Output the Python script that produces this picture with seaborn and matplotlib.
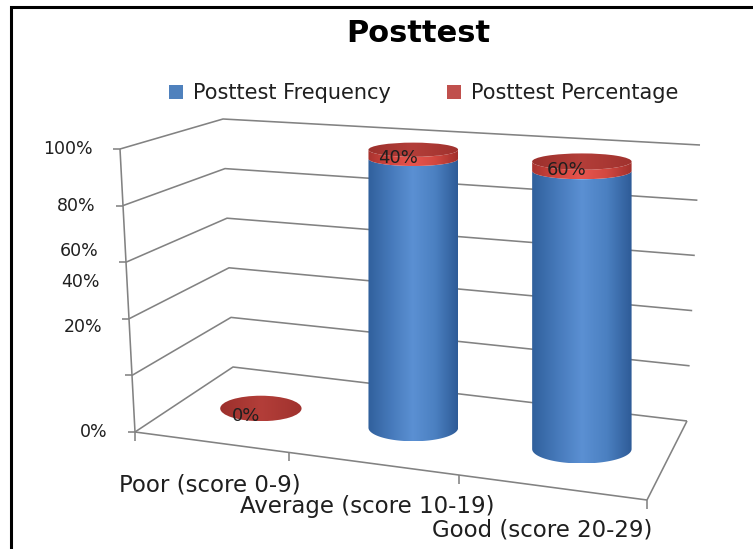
import numpy as np
import pandas as pd
import matplotlib
matplotlib.use("Agg")
import matplotlib.pyplot as plt
from matplotlib.patches import PathPatch, Ellipse, Patch
from matplotlib.path import Path
import seaborn as sns

# ---- data -------------------------------------------------------------
categories = ["Poor (score 0-9)", "Average (score 10-19)", "Good (score 20-29)"]
frequency = [0, 12, 18]
percentage = [0.0, 0.40, 0.60]
series_names = ["Posttest Frequency", "Posttest Percentage"]
value_ticks = [0, 20, 40, 60, 80, 100]
value_tick_labels = ["0%", "20%", "40%", "60%", "80%", "100%"]
chart_title = "Posttest"

# ---- style ------------------------------------------------------------
sns.set_theme(style="white")
plt.rcParams["font.family"] = ["DejaVu Sans"]

BLUE, RED = sns.color_palette(["#4F81BD", "#C0504D"])
side_cmaps = [
    sns.blend_palette(["#30609C", "#4679BA", "#5B90D3", "#4B80C1", "#2E5B97"], as_cmap=True),
    sns.blend_palette(["#A8332F", "#D4463F", "#E8554E", "#D24840", "#A2302C"], as_cmap=True),
]
cap_cmaps = [
    sns.blend_palette(["#3A67A3", "#4F82C0", "#3C69A5"], as_cmap=True),
    sns.blend_palette(["#9C302C", "#B33E39", "#A0322E"], as_cmap=True),
]
LINE = "#828282"
TEXT = "#1f1f1f"

# 100 % stacked shares
df = pd.DataFrame({"category": categories,
                   "frequency": frequency,
                   "percentage": percentage})
total = df["frequency"] + df["percentage"]
safe_total = total.where(total > 0, 1.0)
df["freq_share"] = np.where(total > 0, df["frequency"] / safe_total * 100, 0.0)
df["pct_share"] = np.where(total > 0, df["percentage"] / safe_total * 100, 0.0)

# ---- 3-D box projection ----------------------------------------------
W, H = 753, 549
# screen position of the box corners: [depth (front, back)][side (left, right)][level (0, 100)]
corners = np.array([
    [[(135, 432), (120, 149)], [(647, 500), (663, 191)]],
    [[(233, 367), (223, 119)], [(687, 421), (700, 145)]],
], dtype=float)
PERSP = -0.14          # horizontal foreshortening along the category axis
BAR_DEPTH = 0.5        # depth of the cylinder row inside the box
ROW_SHIFT = 6          # sideways nudge of the cylinder row (px)
RADIUS_FRAC = 0.28     # cylinder radius relative to one category slot
DEPTH_FRAC = 0.19      # cylinder radius relative to the box depth


def warp(s):
    return (1 + PERSP) * s / (1 + PERSP * s)


def project(s, d, v):
    t = warp(s)
    h = v / 100.0
    wd = np.array([1 - d, d])
    wt = np.array([1 - t, t])
    wh = np.array([1 - h, h])
    w = wd[:, None, None] * wt[None, :, None] * wh[None, None, :]
    return (w[..., None] * corners).sum(axis=(0, 1, 2))


fig = plt.figure(figsize=(W / 100, H / 100), dpi=100)
ax = fig.add_axes([0, 0, 1, 1])
ax.set_xlim(0, W)
ax.set_ylim(H, 0)
ax.set_autoscale_on(False)
ax.axis("off")

line_kw = dict(color=LINE, lw=1.15, solid_capstyle="butt", zorder=1)

# walls: gridlines along the side wall and the back wall
for v in value_ticks:
    pts = np.array([project(0, 0, v), project(0, 1, v), project(1, 1, v)])
    ax.plot(pts[:, 0], pts[:, 1], **line_kw)

# floor outline and value axis
for a, b in [((0, 0, 0), (1, 0, 0)), ((1, 0, 0), (1, 1, 0)), ((0, 0, 0), (0, 0, 100))]:
    p, q = project(*a), project(*b)
    ax.plot([p[0], q[0]], [p[1], q[1]], **line_kw)

# value axis ticks and labels
tick_label_levels = [0, 37, 53, 64, 80, 100]
for v in value_ticks:
    p = project(0, 0, v)
    ax.plot([p[0] - 7, p[0]], [p[1], p[1]], **line_kw)
for lab, lv in zip(value_tick_labels, tick_label_levels):
    p = project(0, 0, lv)
    ax.text(p[0] - 27, p[1], lab, ha="right", va="center", fontsize=12.5, color=TEXT)

# category axis ticks and labels
n = len(categories)
for k in range(n + 1):
    p = project(k / n, 0, 0)
    ax.plot([p[0], p[0]], [p[1], p[1] + 9], **line_kw)
for i, lab in enumerate(categories):
    p = project((i + 0.5) / n, 0, 0)
    ax.text(p[0] - 4 * i, p[1] + 43, lab, ha="center", va="center", fontsize=16.5, color=TEXT)


# ---- cylinders ---------------------------------------------------------
def fill_gradient(patch, cmap, x0, x1, y0, y1, z):
    ax.add_patch(patch)
    grad = np.linspace(0, 1, 256)[None, :]
    im = ax.imshow(grad, cmap=cmap, extent=(x0, x1, y1, y0), aspect="auto",
                   interpolation="bicubic", zorder=z)
    im.set_clip_path(patch)


for i, row in df.iterrows():
    s = (i + 0.5) / n
    xc = project(s, BAR_DEPTH, 0)[0] + ROW_SHIFT
    r = RADIUS_FRAC * (project((i + 1) / n, BAR_DEPTH, 0)[0] - project(i / n, BAR_DEPTH, 0)[0])

    def yc(v):
        return project(s, BAR_DEPTH, v)[1]

    def ry(v):
        return DEPTH_FRAC * (project(s, 0, v)[1] - project(s, 1, v)[1])

    z = 3 + i
    shares = [row["freq_share"], row["pct_share"]]
    base = 0.0
    top_series = len(shares) - 1
    for k, sh in enumerate(shares):
        if sh <= 0:
            continue
        v0, v1 = base, base + sh
        th = np.linspace(0, np.pi, 80)
        upper = np.column_stack([xc - r * np.cos(th), yc(v1) + ry(v1) * np.sin(th)])
        lower = np.column_stack([xc + r * np.cos(th), yc(v0) + ry(v0) * np.sin(th)])
        verts = np.vstack([upper, lower, upper[:1]])
        patch = PathPatch(Path(verts, closed=True), facecolor="none", edgecolor="none", zorder=z)
        fill_gradient(patch, side_cmaps[k], xc - r, xc + r, yc(v1), yc(v0) + ry(v0), z)
        base = v1
        top_series = k
    vt = base
    cap = Ellipse((xc, yc(vt)), 2 * r, 2 * ry(vt), facecolor="none", edgecolor="none", zorder=z)
    fill_gradient(cap, cap_cmaps[top_series], xc - r, xc + r,
                  yc(vt) - ry(vt), yc(vt) + ry(vt), z + 0.1)
    ax.text(xc - 15, yc(vt) + 8, f"{row['percentage']:.0%}", ha="center", va="center",
            fontsize=13, color=TEXT, zorder=20)

# ---- title, legend, frame ---------------------------------------------
ax.text(418, 34, chart_title, ha="center", va="center", fontsize=22,
        fontweight="bold", color="black")
handles = [Patch(facecolor=BLUE, edgecolor="none"), Patch(facecolor=RED, edgecolor="none")]
fig.legend(handles, series_names, loc="center", bbox_to_anchor=(424 / W, 1 - 93 / H),
           ncol=2, frameon=False, fontsize=15, handlelength=0.67, handleheight=0.67,
           handletextpad=0.48, columnspacing=2.7, borderpad=0, labelcolor=TEXT)
ax.plot([11, 11, W], [H, 7, 7], color="black", lw=2.2, solid_joinstyle="miter", zorder=30)

fig.savefig("out.png", dpi=100)
